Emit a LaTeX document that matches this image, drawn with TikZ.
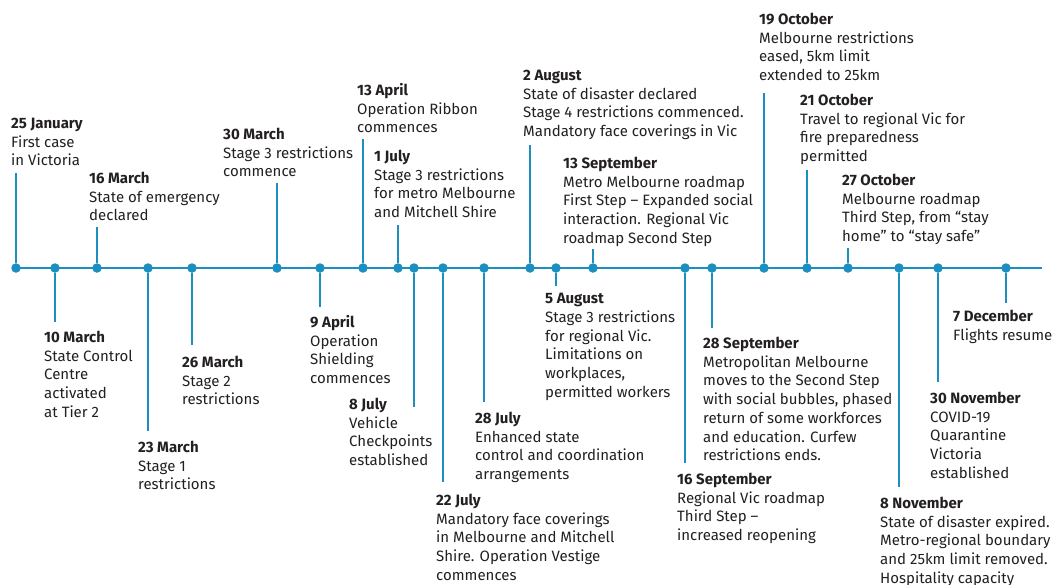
\documentclass[tikz,border=0pt]{standalone}
\usepackage{fontspec}
\setmainfont{Fira Sans}
\definecolor{tlblue}{HTML}{1A8FC0}
\definecolor{tltext}{HTML}{231F20}

\begin{document}
\begin{tikzpicture}[x=1pt,y=-1pt,
  dot/.style={circle,fill=tlblue,inner sep=0pt,minimum size=9.5pt},
  stem/.style={draw=tlblue,line width=1.6pt},
  axis/.style={draw=tlblue,line width=2pt},
  lbl/.style={anchor=north west,inner sep=0pt,align=left,text=tltext,
    font=\fontsize{15}{18.7}\selectfont}]
\useasboundingbox (0,0) rectangle (1058,584);
% timeline
\coordinate (tlstart) at (16,268);
\coordinate (tlend) at (1042,268);
\draw[axis] (tlstart) -- (tlend);
% events above the line
\node[dot] (jan25) at (16,268) {};
\coordinate (jan25s) at (16,173);
\draw[stem] (jan25) -- (jan25s);
\node[lbl] (jan25l) at (11,118) {\textbf{25 January}\\First case\\in Victoria};
\node[dot] (mar16) at (97,268) {};
\coordinate (mar16s) at (97,227);
\draw[stem] (mar16) -- (mar16s);
\node[lbl] (mar16l) at (89,172) {\textbf{16 March}\\State of emergency\\declared};
\node[dot] (mar30) at (277,268) {};
\coordinate (mar30s) at (277,183);
\draw[stem] (mar30) -- (mar30s);
\node[lbl] (mar30l) at (223,128) {\textbf{30 March}\\Stage 3 restrictions\\commence};
\node[dot] (apr13) at (363,268) {};
\coordinate (apr13s) at (363,139);
\draw[stem] (apr13) -- (apr13s);
\node[lbl] (apr13l) at (357,83) {\textbf{13 April}\\Operation Ribbon\\commences};
\node[dot] (jul01) at (398,268) {};
\coordinate (jul01s) at (398,225);
\draw[stem] (jul01) -- (jul01s);
\node[lbl] (jul01l) at (374,150) {\textbf{1 July}\\Stage 3 restrictions\\for metro Melbourne\\and Mitchell Shire};
\node[dot] (aug02) at (530,268) {};
\coordinate (aug02s) at (530,145);
\draw[stem] (aug02) -- (aug02s);
\node[lbl] (aug02l) at (523,70) {\textbf{2 August}\\State of disaster declared\\Stage 4 restrictions commenced.\\Mandatory face coverings in Vic};
\node[dot] (sep13) at (593,268) {};
\coordinate (sep13s) at (593,249);
\draw[stem] (sep13) -- (sep13s);
\node[lbl] (sep13l) at (563,157) {\textbf{13 September}\\Metro Melbourne roadmap\\First Step – Expanded social\\interaction. Regional Vic\\roadmap Second Step};
\node[dot] (oct19) at (764,268) {};
\coordinate (oct19s) at (764,93);
\draw[stem] (oct19) -- (oct19s);
\node[lbl] (oct19l) at (759,13) {\textbf{19 October}\\Melbourne restrictions\\eased, 5km limit\\extended to 25km};
\node[dot] (oct21) at (807,268) {};
\coordinate (oct21s) at (807,170);
\draw[stem] (oct21) -- (oct21s);
\node[lbl] (oct21l) at (800,94) {\textbf{21 October}\\Travel to regional Vic for\\fire preparedness\\permitted};
\node[dot] (oct27) at (848,268) {};
\coordinate (oct27s) at (848,248);
\draw[stem] (oct27) -- (oct27s);
\node[lbl] (oct27l) at (842,174) {\textbf{27 October}\\Melbourne roadmap\\Third Step, from “stay\\home” to “stay safe”};
% events below the line
\node[dot] (mar10) at (55,268) {};
\coordinate (mar10s) at (55,322);
\draw[stem] (mar10) -- (mar10s);
\node[lbl] (mar10l) at (44,331) {\textbf{10 March}\\State Control\\Centre\\activated\\at Tier 2};
\node[dot] (mar23) at (148,268) {};
\coordinate (mar23s) at (148,431);
\draw[stem] (mar23) -- (mar23s);
\node[lbl] (mar23l) at (138,441) {\textbf{23 March}\\Stage 1\\restrictions};
\node[dot] (mar26) at (192,268) {};
\coordinate (mar26s) at (192,345);
\draw[stem] (mar26) -- (mar26s);
\node[lbl] (mar26l) at (182,356) {\textbf{26 March}\\Stage 2\\restrictions};
\node[dot] (apr09) at (320,268) {};
\coordinate (apr09s) at (320,307);
\draw[stem] (apr09) -- (apr09s);
\node[lbl] (apr09l) at (310,315) {\textbf{9 April}\\Operation\\Shielding\\commences};
\node[dot] (jul08) at (414,268) {};
\coordinate (jul08s) at (414,407);
\draw[stem] (jul08) -- (jul08s);
\node[lbl] (jul08l) at (349,398) {\textbf{8 July}\\Vehicle\\Checkpoints\\established};
\node[dot] (jul22) at (443,268) {};
\coordinate (jul22s) at (443,482);
\draw[stem] (jul22) -- (jul22s);
\node[lbl] (jul22l) at (436,494) {\textbf{22 July}\\Mandatory face coverings\\in Melbourne and Mitchell\\Shire. Operation Vestige\\commences};
\node[dot] (jul28) at (484,268) {};
\coordinate (jul28s) at (484,402);
\draw[stem] (jul28) -- (jul28s);
\node[lbl] (jul28l) at (475,412) {\textbf{28 July}\\Enhanced state\\control and coordination\\arrangements};
\node[dot] (aug05) at (556,268) {};
\coordinate (aug05s) at (556,286);
\draw[stem] (aug05) -- (aug05s);
\node[lbl] (aug05l) at (545,293) {\textbf{5 August}\\Stage 3 restrictions\\for regional Vic.\\Limitations on\\workplaces,\\permitted workers};
\node[dot] (sep16) at (685,268) {};
\coordinate (sep16s) at (685,463);
\draw[stem] (sep16) -- (sep16s);
\node[lbl] (sep16l) at (677,473) {\textbf{16 September}\\Regional Vic roadmap\\Third Step –\\increased reopening};
\node[dot] (sep28) at (712,268) {};
\coordinate (sep28s) at (712,328);
\draw[stem] (sep28) -- (sep28s);
\node[lbl] (sep28l) at (703,337) {\textbf{28 September}\\Metropolitan Melbourne\\moves to the Second Step\\with social bubbles, phased\\return of some workforces\\and education. Curfew\\restrictions ends.};
\node[dot] (nov08) at (899,268) {};
\coordinate (nov08s) at (899,487);
\draw[stem] (nov08) -- (nov08s);
\node[lbl] (nov08l) at (880,497) {\textbf{8 November}\\State of disaster expired.\\Metro-regional boundary\\and 25km limit removed.\\Hospitality capacity};
\node[dot] (nov30) at (938,268) {};
\coordinate (nov30s) at (938,382);
\draw[stem] (nov30) -- (nov30s);
\node[lbl] (nov30l) at (930,392) {\textbf{30 November}\\COVID-19\\Quarantine\\Victoria\\established};
\node[dot] (dec07) at (1006,268) {};
\coordinate (dec07s) at (1006,303);
\draw[stem] (dec07) -- (dec07s);
\node[lbl] (dec07l) at (953,310) {\textbf{7 December}\\Flights resume};
\end{tikzpicture}
\end{document}
